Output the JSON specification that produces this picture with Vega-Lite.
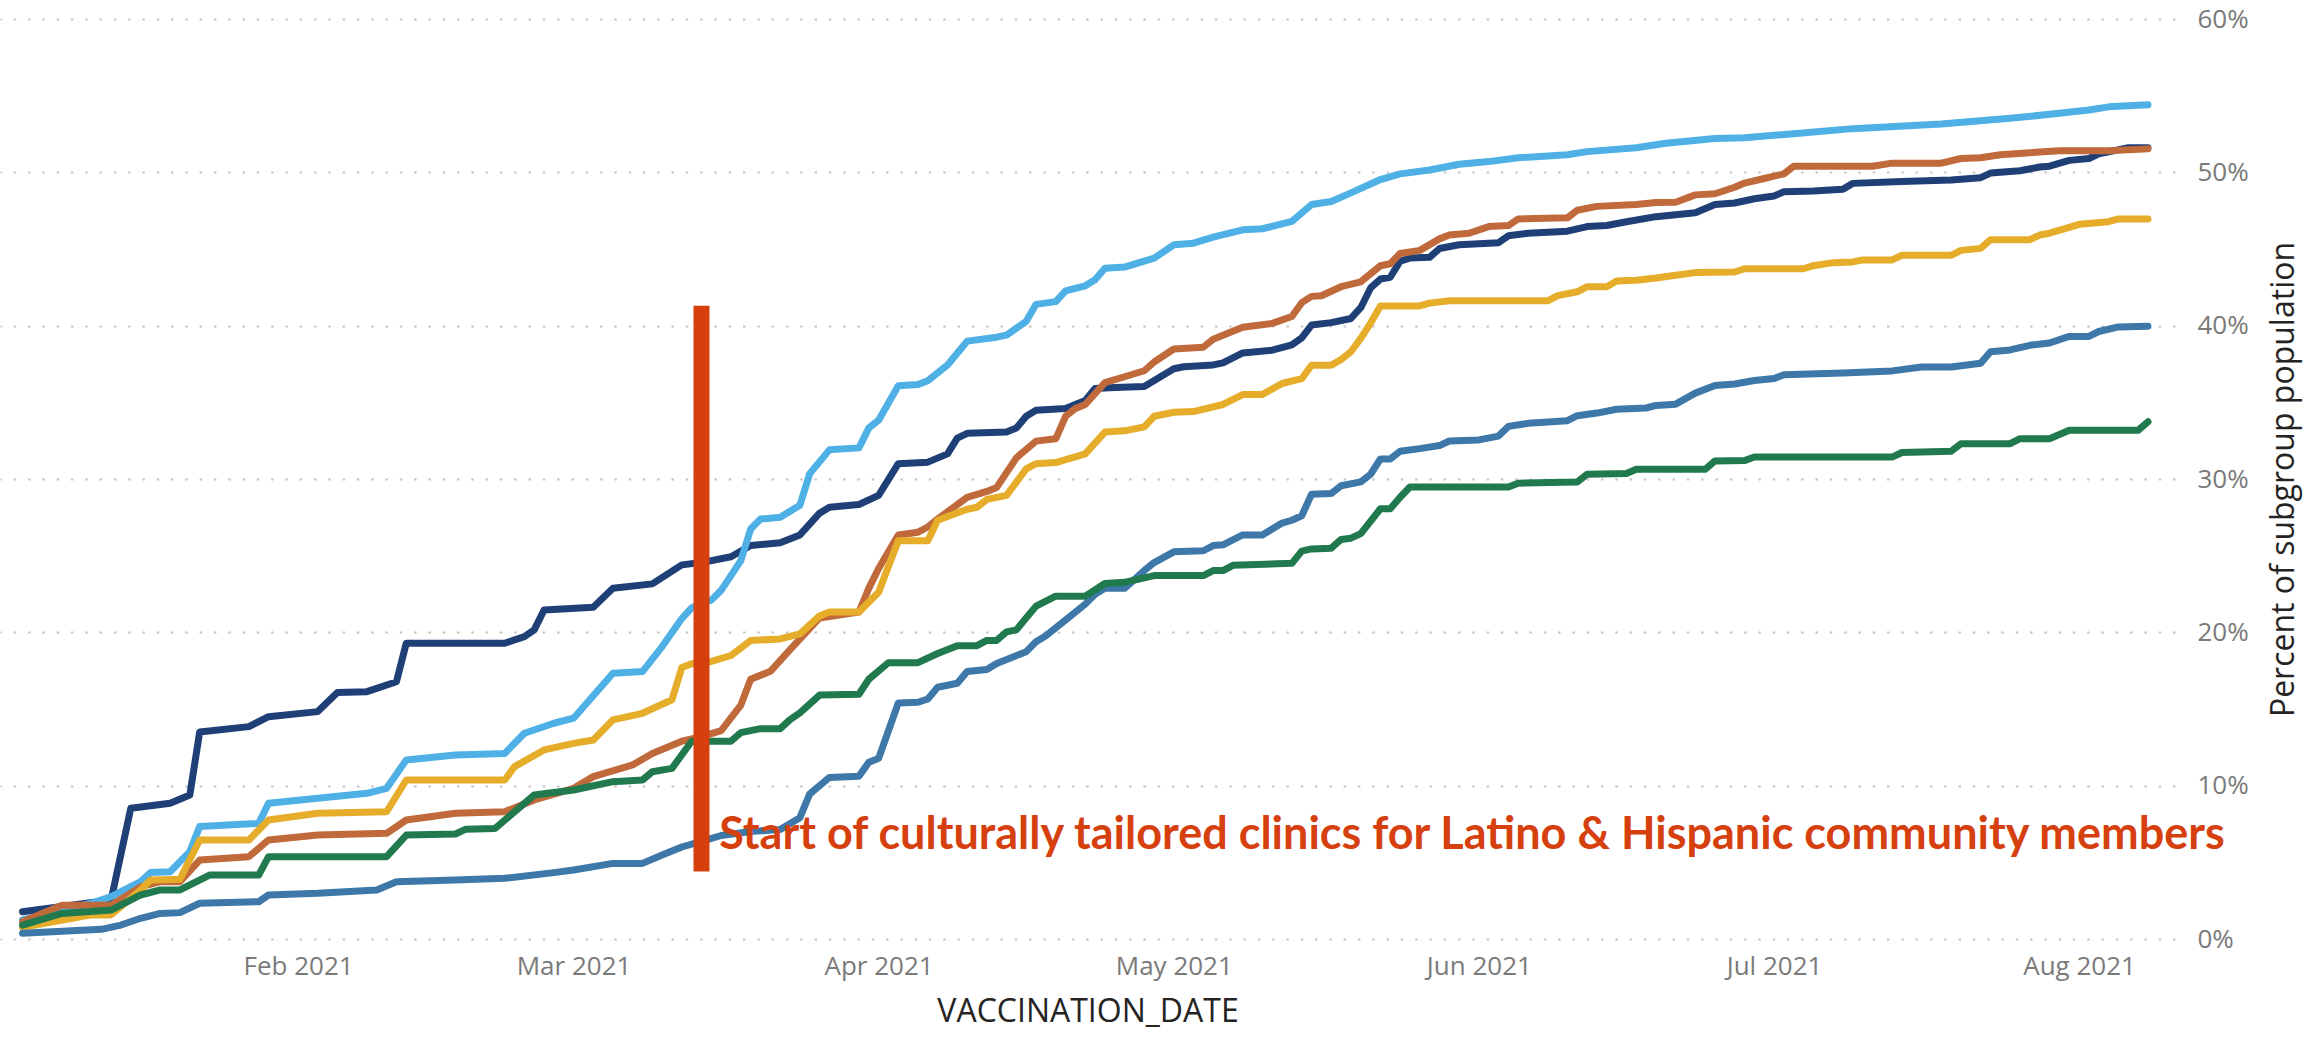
{
  "$schema": "https://vega.github.io/schema/vega-lite/v6.json",
  "autosize": {"type": "none"},
  "width": 2175,
  "height": 920,
  "padding": {"left": 0, "top": 19, "right": 143, "bottom": 99},
  "background": "#ffffff",
  "config": {
    "view": {"stroke": null},
    "axisX": {
      "grid": false, "domain": false, "ticks": false, "tickSize": 0,
      "labelFont": "Open Sans", "labelFontSize": 26, "labelColor": "#7a7a7a",
      "labelPadding": 14, "labelOverlap": false,
      "titleFont": "Open Sans", "titleFontSize": 32,
      "titleFontWeight": "normal", "titleColor": "#252423", "titlePadding": 17
    },
    "axisY": {
      "grid": true, "gridColor": "#c4c4c4", "gridDash": [2.5, 11.8], "gridWidth": 2,
      "domain": false, "ticks": false, "tickSize": 0,
      "labelFont": "Open Sans", "labelFontSize": 26, "labelColor": "#7a7a7a",
      "labelPadding": 22, "labelAlign": "left",
      "titleFont": "Open Sans", "titleFontSize": 32,
      "titleFontWeight": "normal", "titleColor": "#252423", "titleAngle": 270, "titlePadding": 52
    }
  },
  "datasets": {
    "lines": [
      {"g":"Group 3","d":"2021-01-04","v":1.78},{"g":"Group 3","d":"2021-01-13","v":2.54},{"g":"Group 3","d":"2021-01-15","v":8.53},{"g":"Group 3","d":"2021-01-19","v":8.85},{"g":"Group 3","d":"2021-01-21","v":9.39},{"g":"Group 3","d":"2021-01-22","v":13.5},{"g":"Group 3","d":"2021-01-27","v":13.85},{"g":"Group 3","d":"2021-01-29","v":14.5},{"g":"Group 3","d":"2021-02-03","v":14.83},{"g":"Group 3","d":"2021-02-05","v":16.07},{"g":"Group 3","d":"2021-02-08","v":16.13},{"g":"Group 3","d":"2021-02-11","v":16.78},{"g":"Group 3","d":"2021-02-12","v":19.29},{"g":"Group 3","d":"2021-02-22","v":19.29},{"g":"Group 3","d":"2021-02-24","v":19.72},{"g":"Group 3","d":"2021-02-25","v":20.16},{"g":"Group 3","d":"2021-02-26","v":21.46},{"g":"Group 3","d":"2021-03-03","v":21.64},{"g":"Group 3","d":"2021-03-05","v":22.87},{"g":"Group 3","d":"2021-03-09","v":23.16},{"g":"Group 3","d":"2021-03-12","v":24.4},{"g":"Group 3","d":"2021-03-14","v":24.55},{"g":"Group 3","d":"2021-03-17","v":24.93},{"g":"Group 3","d":"2021-03-19","v":25.66},{"g":"Group 3","d":"2021-03-22","v":25.84},{"g":"Group 3","d":"2021-03-24","v":26.35},{"g":"Group 3","d":"2021-03-26","v":27.77},{"g":"Group 3","d":"2021-03-27","v":28.16},{"g":"Group 3","d":"2021-03-30","v":28.34},{"g":"Group 3","d":"2021-04-01","v":28.93},{"g":"Group 3","d":"2021-04-03","v":31.0},{"g":"Group 3","d":"2021-04-06","v":31.1},{"g":"Group 3","d":"2021-04-08","v":31.64},{"g":"Group 3","d":"2021-04-09","v":32.67},{"g":"Group 3","d":"2021-04-10","v":32.98},{"g":"Group 3","d":"2021-04-14","v":33.06},{"g":"Group 3","d":"2021-04-15","v":33.32},{"g":"Group 3","d":"2021-04-16","v":34.09},{"g":"Group 3","d":"2021-04-17","v":34.48},{"g":"Group 3","d":"2021-04-20","v":34.6},{"g":"Group 3","d":"2021-04-22","v":35.12},{"g":"Group 3","d":"2021-04-23","v":35.9},{"g":"Group 3","d":"2021-04-25","v":35.97},{"g":"Group 3","d":"2021-04-28","v":36.03},{"g":"Group 3","d":"2021-05-01","v":37.19},{"g":"Group 3","d":"2021-05-02","v":37.32},{"g":"Group 3","d":"2021-05-05","v":37.44},{"g":"Group 3","d":"2021-05-06","v":37.57},{"g":"Group 3","d":"2021-05-08","v":38.22},{"g":"Group 3","d":"2021-05-11","v":38.4},{"g":"Group 3","d":"2021-05-13","v":38.75},{"g":"Group 3","d":"2021-05-14","v":39.2},{"g":"Group 3","d":"2021-05-15","v":40.04},{"g":"Group 3","d":"2021-05-17","v":40.2},{"g":"Group 3","d":"2021-05-19","v":40.47},{"g":"Group 3","d":"2021-05-20","v":41.17},{"g":"Group 3","d":"2021-05-21","v":42.46},{"g":"Group 3","d":"2021-05-22","v":43.04},{"g":"Group 3","d":"2021-05-23","v":43.16},{"g":"Group 3","d":"2021-05-24","v":44.21},{"g":"Group 3","d":"2021-05-25","v":44.41},{"g":"Group 3","d":"2021-05-27","v":44.46},{"g":"Group 3","d":"2021-05-28","v":45.03},{"g":"Group 3","d":"2021-05-30","v":45.28},{"g":"Group 3","d":"2021-06-03","v":45.41},{"g":"Group 3","d":"2021-06-04","v":45.86},{"g":"Group 3","d":"2021-06-06","v":46.03},{"g":"Group 3","d":"2021-06-10","v":46.16},{"g":"Group 3","d":"2021-06-12","v":46.46},{"g":"Group 3","d":"2021-06-14","v":46.53},{"g":"Group 3","d":"2021-06-16","v":46.78},{"g":"Group 3","d":"2021-06-19","v":47.11},{"g":"Group 3","d":"2021-06-23","v":47.36},{"g":"Group 3","d":"2021-06-25","v":47.9},{"g":"Group 3","d":"2021-06-27","v":48.0},{"g":"Group 3","d":"2021-06-29","v":48.28},{"g":"Group 3","d":"2021-07-01","v":48.46},{"g":"Group 3","d":"2021-07-02","v":48.73},{"g":"Group 3","d":"2021-07-05","v":48.78},{"g":"Group 3","d":"2021-07-08","v":48.9},{"g":"Group 3","d":"2021-07-09","v":49.28},{"g":"Group 3","d":"2021-07-14","v":49.4},{"g":"Group 3","d":"2021-07-19","v":49.5},{"g":"Group 3","d":"2021-07-22","v":49.65},{"g":"Group 3","d":"2021-07-23","v":49.95},{"g":"Group 3","d":"2021-07-26","v":50.1},{"g":"Group 3","d":"2021-07-28","v":50.35},{"g":"Group 3","d":"2021-07-29","v":50.4},{"g":"Group 3","d":"2021-07-31","v":50.78},{"g":"Group 3","d":"2021-08-02","v":50.9},{"g":"Group 3","d":"2021-08-03","v":51.2},{"g":"Group 3","d":"2021-08-06","v":51.6},{"g":"Group 3","d":"2021-08-08","v":51.6},
      {"g":"Group 1","d":"2021-01-04","v":1.24},{"g":"Group 1","d":"2021-01-11","v":2.33},{"g":"Group 1","d":"2021-01-13","v":2.76},{"g":"Group 1","d":"2021-01-16","v":3.74},{"g":"Group 1","d":"2021-01-17","v":4.33},{"g":"Group 1","d":"2021-01-19","v":4.39},{"g":"Group 1","d":"2021-01-21","v":5.7},{"g":"Group 1","d":"2021-01-22","v":7.33},{"g":"Group 1","d":"2021-01-28","v":7.54},{"g":"Group 1","d":"2021-01-29","v":8.85},{"g":"Group 1","d":"2021-02-03","v":9.18},{"g":"Group 1","d":"2021-02-08","v":9.5},{"g":"Group 1","d":"2021-02-10","v":9.83},{"g":"Group 1","d":"2021-02-12","v":11.68},{"g":"Group 1","d":"2021-02-17","v":12.0},{"g":"Group 1","d":"2021-02-22","v":12.1},{"g":"Group 1","d":"2021-02-24","v":13.42},{"g":"Group 1","d":"2021-02-27","v":14.07},{"g":"Group 1","d":"2021-03-01","v":14.4},{"g":"Group 1","d":"2021-03-05","v":17.33},{"g":"Group 1","d":"2021-03-08","v":17.44},{"g":"Group 1","d":"2021-03-10","v":19.07},{"g":"Group 1","d":"2021-03-12","v":20.9},{"g":"Group 1","d":"2021-03-13","v":21.6},{"g":"Group 1","d":"2021-03-14","v":21.9},{"g":"Group 1","d":"2021-03-15","v":22.1},{"g":"Group 1","d":"2021-03-16","v":22.74},{"g":"Group 1","d":"2021-03-18","v":24.68},{"g":"Group 1","d":"2021-03-19","v":26.74},{"g":"Group 1","d":"2021-03-20","v":27.39},{"g":"Group 1","d":"2021-03-22","v":27.5},{"g":"Group 1","d":"2021-03-24","v":28.29},{"g":"Group 1","d":"2021-03-25","v":30.35},{"g":"Group 1","d":"2021-03-27","v":31.9},{"g":"Group 1","d":"2021-03-30","v":32.03},{"g":"Group 1","d":"2021-03-31","v":33.32},{"g":"Group 1","d":"2021-04-01","v":33.83},{"g":"Group 1","d":"2021-04-03","v":36.08},{"g":"Group 1","d":"2021-04-05","v":36.16},{"g":"Group 1","d":"2021-04-06","v":36.41},{"g":"Group 1","d":"2021-04-08","v":37.44},{"g":"Group 1","d":"2021-04-10","v":38.99},{"g":"Group 1","d":"2021-04-13","v":39.25},{"g":"Group 1","d":"2021-04-14","v":39.38},{"g":"Group 1","d":"2021-04-16","v":40.28},{"g":"Group 1","d":"2021-04-17","v":41.39},{"g":"Group 1","d":"2021-04-19","v":41.57},{"g":"Group 1","d":"2021-04-20","v":42.27},{"g":"Group 1","d":"2021-04-22","v":42.6},{"g":"Group 1","d":"2021-04-23","v":43.0},{"g":"Group 1","d":"2021-04-24","v":43.75},{"g":"Group 1","d":"2021-04-26","v":43.82},{"g":"Group 1","d":"2021-04-29","v":44.4},{"g":"Group 1","d":"2021-05-01","v":45.27},{"g":"Group 1","d":"2021-05-03","v":45.38},{"g":"Group 1","d":"2021-05-05","v":45.77},{"g":"Group 1","d":"2021-05-08","v":46.25},{"g":"Group 1","d":"2021-05-10","v":46.32},{"g":"Group 1","d":"2021-05-13","v":46.8},{"g":"Group 1","d":"2021-05-15","v":47.9},{"g":"Group 1","d":"2021-05-17","v":48.1},{"g":"Group 1","d":"2021-05-19","v":48.66},{"g":"Group 1","d":"2021-05-22","v":49.53},{"g":"Group 1","d":"2021-05-24","v":49.9},{"g":"Group 1","d":"2021-05-27","v":50.15},{"g":"Group 1","d":"2021-05-30","v":50.53},{"g":"Group 1","d":"2021-06-02","v":50.7},{"g":"Group 1","d":"2021-06-05","v":50.95},{"g":"Group 1","d":"2021-06-10","v":51.15},{"g":"Group 1","d":"2021-06-12","v":51.35},{"g":"Group 1","d":"2021-06-17","v":51.6},{"g":"Group 1","d":"2021-06-20","v":51.9},{"g":"Group 1","d":"2021-06-25","v":52.2},{"g":"Group 1","d":"2021-06-28","v":52.25},{"g":"Group 1","d":"2021-07-03","v":52.52},{"g":"Group 1","d":"2021-07-09","v":52.85},{"g":"Group 1","d":"2021-07-18","v":53.15},{"g":"Group 1","d":"2021-07-25","v":53.52},{"g":"Group 1","d":"2021-07-30","v":53.85},{"g":"Group 1","d":"2021-08-02","v":54.07},{"g":"Group 1","d":"2021-08-04","v":54.27},{"g":"Group 1","d":"2021-08-08","v":54.4},
      {"g":"Group 2","d":"2021-01-04","v":1.13},{"g":"Group 2","d":"2021-01-08","v":2.2},{"g":"Group 2","d":"2021-01-13","v":2.2},{"g":"Group 2","d":"2021-01-16","v":3.4},{"g":"Group 2","d":"2021-01-18","v":3.74},{"g":"Group 2","d":"2021-01-20","v":3.74},{"g":"Group 2","d":"2021-01-22","v":5.15},{"g":"Group 2","d":"2021-01-27","v":5.37},{"g":"Group 2","d":"2021-01-29","v":6.46},{"g":"Group 2","d":"2021-02-03","v":6.78},{"g":"Group 2","d":"2021-02-10","v":6.89},{"g":"Group 2","d":"2021-02-12","v":7.76},{"g":"Group 2","d":"2021-02-17","v":8.2},{"g":"Group 2","d":"2021-02-22","v":8.3},{"g":"Group 2","d":"2021-02-25","v":9.07},{"g":"Group 2","d":"2021-03-01","v":9.83},{"g":"Group 2","d":"2021-03-03","v":10.59},{"g":"Group 2","d":"2021-03-07","v":11.35},{"g":"Group 2","d":"2021-03-09","v":12.1},{"g":"Group 2","d":"2021-03-12","v":12.9},{"g":"Group 2","d":"2021-03-14","v":13.2},{"g":"Group 2","d":"2021-03-16","v":13.59},{"g":"Group 2","d":"2021-03-18","v":15.26},{"g":"Group 2","d":"2021-03-19","v":16.94},{"g":"Group 2","d":"2021-03-21","v":17.46},{"g":"Group 2","d":"2021-03-23","v":18.87},{"g":"Group 2","d":"2021-03-26","v":20.94},{"g":"Group 2","d":"2021-03-30","v":21.32},{"g":"Group 2","d":"2021-03-31","v":22.87},{"g":"Group 2","d":"2021-04-01","v":24.16},{"g":"Group 2","d":"2021-04-03","v":26.35},{"g":"Group 2","d":"2021-04-05","v":26.53},{"g":"Group 2","d":"2021-04-06","v":26.87},{"g":"Group 2","d":"2021-04-07","v":27.39},{"g":"Group 2","d":"2021-04-10","v":28.8},{"g":"Group 2","d":"2021-04-12","v":29.19},{"g":"Group 2","d":"2021-04-13","v":29.45},{"g":"Group 2","d":"2021-04-15","v":31.38},{"g":"Group 2","d":"2021-04-17","v":32.47},{"g":"Group 2","d":"2021-04-19","v":32.62},{"g":"Group 2","d":"2021-04-20","v":34.09},{"g":"Group 2","d":"2021-04-21","v":34.6},{"g":"Group 2","d":"2021-04-22","v":34.86},{"g":"Group 2","d":"2021-04-24","v":36.28},{"g":"Group 2","d":"2021-04-26","v":36.67},{"g":"Group 2","d":"2021-04-28","v":37.06},{"g":"Group 2","d":"2021-04-29","v":37.63},{"g":"Group 2","d":"2021-05-01","v":38.48},{"g":"Group 2","d":"2021-05-04","v":38.6},{"g":"Group 2","d":"2021-05-05","v":39.12},{"g":"Group 2","d":"2021-05-08","v":39.9},{"g":"Group 2","d":"2021-05-11","v":40.15},{"g":"Group 2","d":"2021-05-13","v":40.6},{"g":"Group 2","d":"2021-05-14","v":41.5},{"g":"Group 2","d":"2021-05-15","v":41.91},{"g":"Group 2","d":"2021-05-16","v":41.95},{"g":"Group 2","d":"2021-05-18","v":42.54},{"g":"Group 2","d":"2021-05-20","v":42.86},{"g":"Group 2","d":"2021-05-22","v":43.91},{"g":"Group 2","d":"2021-05-23","v":44.04},{"g":"Group 2","d":"2021-05-24","v":44.71},{"g":"Group 2","d":"2021-05-26","v":44.91},{"g":"Group 2","d":"2021-05-28","v":45.66},{"g":"Group 2","d":"2021-05-29","v":45.91},{"g":"Group 2","d":"2021-05-31","v":46.03},{"g":"Group 2","d":"2021-06-02","v":46.46},{"g":"Group 2","d":"2021-06-04","v":46.53},{"g":"Group 2","d":"2021-06-05","v":46.96},{"g":"Group 2","d":"2021-06-10","v":47.03},{"g":"Group 2","d":"2021-06-11","v":47.53},{"g":"Group 2","d":"2021-06-13","v":47.78},{"g":"Group 2","d":"2021-06-17","v":47.9},{"g":"Group 2","d":"2021-06-19","v":48.03},{"g":"Group 2","d":"2021-06-21","v":48.05},{"g":"Group 2","d":"2021-06-23","v":48.53},{"g":"Group 2","d":"2021-06-25","v":48.6},{"g":"Group 2","d":"2021-06-27","v":49.03},{"g":"Group 2","d":"2021-06-28","v":49.3},{"g":"Group 2","d":"2021-06-30","v":49.6},{"g":"Group 2","d":"2021-07-02","v":49.9},{"g":"Group 2","d":"2021-07-03","v":50.4},{"g":"Group 2","d":"2021-07-11","v":50.4},{"g":"Group 2","d":"2021-07-13","v":50.6},{"g":"Group 2","d":"2021-07-18","v":50.6},{"g":"Group 2","d":"2021-07-20","v":50.9},{"g":"Group 2","d":"2021-07-22","v":50.95},{"g":"Group 2","d":"2021-07-24","v":51.15},{"g":"Group 2","d":"2021-07-27","v":51.28},{"g":"Group 2","d":"2021-07-30","v":51.4},{"g":"Group 2","d":"2021-08-04","v":51.4},{"g":"Group 2","d":"2021-08-08","v":51.53},
      {"g":"Group 4","d":"2021-01-04","v":0.76},{"g":"Group 4","d":"2021-01-11","v":1.57},{"g":"Group 4","d":"2021-01-13","v":1.57},{"g":"Group 4","d":"2021-01-16","v":3.2},{"g":"Group 4","d":"2021-01-17","v":3.85},{"g":"Group 4","d":"2021-01-20","v":3.9},{"g":"Group 4","d":"2021-01-22","v":6.46},{"g":"Group 4","d":"2021-01-27","v":6.46},{"g":"Group 4","d":"2021-01-29","v":7.76},{"g":"Group 4","d":"2021-02-03","v":8.2},{"g":"Group 4","d":"2021-02-10","v":8.3},{"g":"Group 4","d":"2021-02-12","v":10.37},{"g":"Group 4","d":"2021-02-22","v":10.37},{"g":"Group 4","d":"2021-02-23","v":11.24},{"g":"Group 4","d":"2021-02-26","v":12.33},{"g":"Group 4","d":"2021-03-01","v":12.76},{"g":"Group 4","d":"2021-03-03","v":12.98},{"g":"Group 4","d":"2021-03-05","v":14.29},{"g":"Group 4","d":"2021-03-08","v":14.72},{"g":"Group 4","d":"2021-03-11","v":15.6},{"g":"Group 4","d":"2021-03-12","v":17.7},{"g":"Group 4","d":"2021-03-13","v":17.95},{"g":"Group 4","d":"2021-03-15","v":18.1},{"g":"Group 4","d":"2021-03-17","v":18.49},{"g":"Group 4","d":"2021-03-19","v":19.47},{"g":"Group 4","d":"2021-03-22","v":19.57},{"g":"Group 4","d":"2021-03-24","v":19.9},{"g":"Group 4","d":"2021-03-26","v":21.07},{"g":"Group 4","d":"2021-03-27","v":21.32},{"g":"Group 4","d":"2021-03-30","v":21.32},{"g":"Group 4","d":"2021-04-01","v":22.61},{"g":"Group 4","d":"2021-04-03","v":25.97},{"g":"Group 4","d":"2021-04-06","v":25.97},{"g":"Group 4","d":"2021-04-07","v":27.31},{"g":"Group 4","d":"2021-04-10","v":28.03},{"g":"Group 4","d":"2021-04-11","v":28.16},{"g":"Group 4","d":"2021-04-12","v":28.67},{"g":"Group 4","d":"2021-04-14","v":28.93},{"g":"Group 4","d":"2021-04-16","v":30.66},{"g":"Group 4","d":"2021-04-17","v":31.0},{"g":"Group 4","d":"2021-04-19","v":31.07},{"g":"Group 4","d":"2021-04-22","v":31.64},{"g":"Group 4","d":"2021-04-24","v":33.06},{"g":"Group 4","d":"2021-04-26","v":33.14},{"g":"Group 4","d":"2021-04-28","v":33.4},{"g":"Group 4","d":"2021-04-29","v":34.09},{"g":"Group 4","d":"2021-05-01","v":34.35},{"g":"Group 4","d":"2021-05-03","v":34.4},{"g":"Group 4","d":"2021-05-06","v":34.86},{"g":"Group 4","d":"2021-05-08","v":35.51},{"g":"Group 4","d":"2021-05-10","v":35.51},{"g":"Group 4","d":"2021-05-12","v":36.23},{"g":"Group 4","d":"2021-05-14","v":36.54},{"g":"Group 4","d":"2021-05-15","v":37.42},{"g":"Group 4","d":"2021-05-17","v":37.42},{"g":"Group 4","d":"2021-05-18","v":37.8},{"g":"Group 4","d":"2021-05-19","v":38.3},{"g":"Group 4","d":"2021-05-20","v":39.17},{"g":"Group 4","d":"2021-05-21","v":40.17},{"g":"Group 4","d":"2021-05-22","v":41.29},{"g":"Group 4","d":"2021-05-26","v":41.29},{"g":"Group 4","d":"2021-05-27","v":41.47},{"g":"Group 4","d":"2021-05-29","v":41.62},{"g":"Group 4","d":"2021-06-08","v":41.62},{"g":"Group 4","d":"2021-06-09","v":41.96},{"g":"Group 4","d":"2021-06-11","v":42.21},{"g":"Group 4","d":"2021-06-12","v":42.54},{"g":"Group 4","d":"2021-06-14","v":42.54},{"g":"Group 4","d":"2021-06-15","v":42.91},{"g":"Group 4","d":"2021-06-17","v":42.96},{"g":"Group 4","d":"2021-06-19","v":43.11},{"g":"Group 4","d":"2021-06-21","v":43.29},{"g":"Group 4","d":"2021-06-23","v":43.46},{"g":"Group 4","d":"2021-06-27","v":43.5},{"g":"Group 4","d":"2021-06-28","v":43.71},{"g":"Group 4","d":"2021-07-04","v":43.71},{"g":"Group 4","d":"2021-07-05","v":43.91},{"g":"Group 4","d":"2021-07-07","v":44.11},{"g":"Group 4","d":"2021-07-09","v":44.16},{"g":"Group 4","d":"2021-07-10","v":44.29},{"g":"Group 4","d":"2021-07-13","v":44.29},{"g":"Group 4","d":"2021-07-14","v":44.59},{"g":"Group 4","d":"2021-07-19","v":44.59},{"g":"Group 4","d":"2021-07-20","v":44.91},{"g":"Group 4","d":"2021-07-22","v":45.04},{"g":"Group 4","d":"2021-07-23","v":45.61},{"g":"Group 4","d":"2021-07-27","v":45.61},{"g":"Group 4","d":"2021-07-28","v":45.91},{"g":"Group 4","d":"2021-07-29","v":46.03},{"g":"Group 4","d":"2021-07-31","v":46.41},{"g":"Group 4","d":"2021-08-01","v":46.61},{"g":"Group 4","d":"2021-08-04","v":46.78},{"g":"Group 4","d":"2021-08-05","v":46.96},{"g":"Group 4","d":"2021-08-08","v":46.96},
      {"g":"Group 5","d":"2021-01-04","v":0.37},{"g":"Group 5","d":"2021-01-12","v":0.63},{"g":"Group 5","d":"2021-01-14","v":0.91},{"g":"Group 5","d":"2021-01-16","v":1.35},{"g":"Group 5","d":"2021-01-18","v":1.67},{"g":"Group 5","d":"2021-01-20","v":1.72},{"g":"Group 5","d":"2021-01-22","v":2.33},{"g":"Group 5","d":"2021-01-28","v":2.43},{"g":"Group 5","d":"2021-01-29","v":2.87},{"g":"Group 5","d":"2021-02-03","v":2.98},{"g":"Group 5","d":"2021-02-09","v":3.2},{"g":"Group 5","d":"2021-02-11","v":3.74},{"g":"Group 5","d":"2021-02-17","v":3.85},{"g":"Group 5","d":"2021-02-22","v":3.96},{"g":"Group 5","d":"2021-02-27","v":4.33},{"g":"Group 5","d":"2021-03-01","v":4.5},{"g":"Group 5","d":"2021-03-05","v":4.93},{"g":"Group 5","d":"2021-03-08","v":4.93},{"g":"Group 5","d":"2021-03-10","v":5.48},{"g":"Group 5","d":"2021-03-12","v":6.0},{"g":"Group 5","d":"2021-03-14","v":6.36},{"g":"Group 5","d":"2021-03-16","v":6.75},{"g":"Group 5","d":"2021-03-19","v":7.01},{"g":"Group 5","d":"2021-03-22","v":7.14},{"g":"Group 5","d":"2021-03-24","v":7.91},{"g":"Group 5","d":"2021-03-25","v":9.46},{"g":"Group 5","d":"2021-03-27","v":10.54},{"g":"Group 5","d":"2021-03-30","v":10.62},{"g":"Group 5","d":"2021-03-31","v":11.52},{"g":"Group 5","d":"2021-04-01","v":11.78},{"g":"Group 5","d":"2021-04-03","v":15.39},{"g":"Group 5","d":"2021-04-05","v":15.44},{"g":"Group 5","d":"2021-04-06","v":15.65},{"g":"Group 5","d":"2021-04-07","v":16.42},{"g":"Group 5","d":"2021-04-09","v":16.68},{"g":"Group 5","d":"2021-04-10","v":17.45},{"g":"Group 5","d":"2021-04-12","v":17.58},{"g":"Group 5","d":"2021-04-13","v":17.97},{"g":"Group 5","d":"2021-04-16","v":18.74},{"g":"Group 5","d":"2021-04-17","v":19.39},{"g":"Group 5","d":"2021-04-18","v":19.78},{"g":"Group 5","d":"2021-04-20","v":20.81},{"g":"Group 5","d":"2021-04-22","v":21.84},{"g":"Group 5","d":"2021-04-23","v":22.48},{"g":"Group 5","d":"2021-04-24","v":22.87},{"g":"Group 5","d":"2021-04-26","v":22.87},{"g":"Group 5","d":"2021-04-28","v":24.03},{"g":"Group 5","d":"2021-04-29","v":24.55},{"g":"Group 5","d":"2021-05-01","v":25.25},{"g":"Group 5","d":"2021-05-04","v":25.32},{"g":"Group 5","d":"2021-05-05","v":25.66},{"g":"Group 5","d":"2021-05-06","v":25.71},{"g":"Group 5","d":"2021-05-08","v":26.35},{"g":"Group 5","d":"2021-05-10","v":26.35},{"g":"Group 5","d":"2021-05-12","v":27.13},{"g":"Group 5","d":"2021-05-13","v":27.31},{"g":"Group 5","d":"2021-05-14","v":27.6},{"g":"Group 5","d":"2021-05-15","v":29.0},{"g":"Group 5","d":"2021-05-17","v":29.06},{"g":"Group 5","d":"2021-05-18","v":29.56},{"g":"Group 5","d":"2021-05-20","v":29.81},{"g":"Group 5","d":"2021-05-21","v":30.31},{"g":"Group 5","d":"2021-05-22","v":31.31},{"g":"Group 5","d":"2021-05-23","v":31.31},{"g":"Group 5","d":"2021-05-24","v":31.81},{"g":"Group 5","d":"2021-05-26","v":31.98},{"g":"Group 5","d":"2021-05-28","v":32.18},{"g":"Group 5","d":"2021-05-29","v":32.48},{"g":"Group 5","d":"2021-06-01","v":32.55},{"g":"Group 5","d":"2021-06-03","v":32.8},{"g":"Group 5","d":"2021-06-04","v":33.43},{"g":"Group 5","d":"2021-06-06","v":33.63},{"g":"Group 5","d":"2021-06-10","v":33.8},{"g":"Group 5","d":"2021-06-11","v":34.13},{"g":"Group 5","d":"2021-06-13","v":34.3},{"g":"Group 5","d":"2021-06-15","v":34.55},{"g":"Group 5","d":"2021-06-18","v":34.63},{"g":"Group 5","d":"2021-06-19","v":34.8},{"g":"Group 5","d":"2021-06-21","v":34.88},{"g":"Group 5","d":"2021-06-23","v":35.6},{"g":"Group 5","d":"2021-06-25","v":36.1},{"g":"Group 5","d":"2021-06-27","v":36.2},{"g":"Group 5","d":"2021-06-29","v":36.42},{"g":"Group 5","d":"2021-07-01","v":36.55},{"g":"Group 5","d":"2021-07-02","v":36.8},{"g":"Group 5","d":"2021-07-08","v":36.92},{"g":"Group 5","d":"2021-07-13","v":37.05},{"g":"Group 5","d":"2021-07-16","v":37.3},{"g":"Group 5","d":"2021-07-19","v":37.3},{"g":"Group 5","d":"2021-07-22","v":37.55},{"g":"Group 5","d":"2021-07-23","v":38.3},{"g":"Group 5","d":"2021-07-25","v":38.42},{"g":"Group 5","d":"2021-07-27","v":38.72},{"g":"Group 5","d":"2021-07-29","v":38.87},{"g":"Group 5","d":"2021-07-31","v":39.3},{"g":"Group 5","d":"2021-08-02","v":39.3},{"g":"Group 5","d":"2021-08-03","v":39.62},{"g":"Group 5","d":"2021-08-05","v":39.92},{"g":"Group 5","d":"2021-08-08","v":39.97},
      {"g":"Group 6","d":"2021-01-04","v":0.91},{"g":"Group 6","d":"2021-01-08","v":1.67},{"g":"Group 6","d":"2021-01-13","v":1.89},{"g":"Group 6","d":"2021-01-16","v":2.87},{"g":"Group 6","d":"2021-01-18","v":3.2},{"g":"Group 6","d":"2021-01-20","v":3.2},{"g":"Group 6","d":"2021-01-23","v":4.17},{"g":"Group 6","d":"2021-01-28","v":4.17},{"g":"Group 6","d":"2021-01-29","v":5.37},{"g":"Group 6","d":"2021-02-10","v":5.37},{"g":"Group 6","d":"2021-02-12","v":6.78},{"g":"Group 6","d":"2021-02-17","v":6.85},{"g":"Group 6","d":"2021-02-18","v":7.15},{"g":"Group 6","d":"2021-02-21","v":7.2},{"g":"Group 6","d":"2021-02-25","v":9.39},{"g":"Group 6","d":"2021-03-01","v":9.72},{"g":"Group 6","d":"2021-03-05","v":10.26},{"g":"Group 6","d":"2021-03-08","v":10.37},{"g":"Group 6","d":"2021-03-09","v":10.91},{"g":"Group 6","d":"2021-03-11","v":11.13},{"g":"Group 6","d":"2021-03-13","v":12.9},{"g":"Group 6","d":"2021-03-17","v":12.9},{"g":"Group 6","d":"2021-03-18","v":13.46},{"g":"Group 6","d":"2021-03-20","v":13.72},{"g":"Group 6","d":"2021-03-22","v":13.72},{"g":"Group 6","d":"2021-03-23","v":14.31},{"g":"Group 6","d":"2021-03-24","v":14.75},{"g":"Group 6","d":"2021-03-26","v":15.91},{"g":"Group 6","d":"2021-03-30","v":15.96},{"g":"Group 6","d":"2021-03-31","v":16.94},{"g":"Group 6","d":"2021-04-02","v":18.02},{"g":"Group 6","d":"2021-04-05","v":18.02},{"g":"Group 6","d":"2021-04-07","v":18.62},{"g":"Group 6","d":"2021-04-09","v":19.13},{"g":"Group 6","d":"2021-04-11","v":19.13},{"g":"Group 6","d":"2021-04-12","v":19.47},{"g":"Group 6","d":"2021-04-13","v":19.47},{"g":"Group 6","d":"2021-04-14","v":20.03},{"g":"Group 6","d":"2021-04-15","v":20.16},{"g":"Group 6","d":"2021-04-17","v":21.71},{"g":"Group 6","d":"2021-04-19","v":22.36},{"g":"Group 6","d":"2021-04-22","v":22.36},{"g":"Group 6","d":"2021-04-24","v":23.18},{"g":"Group 6","d":"2021-04-26","v":23.26},{"g":"Group 6","d":"2021-04-29","v":23.7},{"g":"Group 6","d":"2021-05-04","v":23.7},{"g":"Group 6","d":"2021-05-05","v":24.03},{"g":"Group 6","d":"2021-05-06","v":24.03},{"g":"Group 6","d":"2021-05-07","v":24.37},{"g":"Group 6","d":"2021-05-13","v":24.5},{"g":"Group 6","d":"2021-05-14","v":25.3},{"g":"Group 6","d":"2021-05-15","v":25.44},{"g":"Group 6","d":"2021-05-17","v":25.49},{"g":"Group 6","d":"2021-05-18","v":26.06},{"g":"Group 6","d":"2021-05-19","v":26.14},{"g":"Group 6","d":"2021-05-20","v":26.44},{"g":"Group 6","d":"2021-05-22","v":28.06},{"g":"Group 6","d":"2021-05-23","v":28.06},{"g":"Group 6","d":"2021-05-24","v":28.81},{"g":"Group 6","d":"2021-05-25","v":29.48},{"g":"Group 6","d":"2021-06-04","v":29.48},{"g":"Group 6","d":"2021-06-05","v":29.73},{"g":"Group 6","d":"2021-06-11","v":29.81},{"g":"Group 6","d":"2021-06-12","v":30.31},{"g":"Group 6","d":"2021-06-16","v":30.36},{"g":"Group 6","d":"2021-06-17","v":30.63},{"g":"Group 6","d":"2021-06-24","v":30.63},{"g":"Group 6","d":"2021-06-25","v":31.18},{"g":"Group 6","d":"2021-06-28","v":31.2},{"g":"Group 6","d":"2021-06-29","v":31.43},{"g":"Group 6","d":"2021-07-13","v":31.43},{"g":"Group 6","d":"2021-07-14","v":31.73},{"g":"Group 6","d":"2021-07-19","v":31.81},{"g":"Group 6","d":"2021-07-20","v":32.3},{"g":"Group 6","d":"2021-07-25","v":32.3},{"g":"Group 6","d":"2021-07-26","v":32.63},{"g":"Group 6","d":"2021-07-29","v":32.63},{"g":"Group 6","d":"2021-07-31","v":33.18},{"g":"Group 6","d":"2021-08-07","v":33.18},{"g":"Group 6","d":"2021-08-08","v":33.73}
    ],
    "marker": [{"d": "2021-03-14", "v": 41.3, "v2": 4.4}],
    "note": [{"d": "2021-03-16", "v": 5.87, "label": "Start of culturally tailored clinics for Latino & Hispanic community members"}]
  },
  "layer": [
    {
      "data": {"name": "lines", "format": {"parse": {"d": "date:'%Y-%m-%d'"}}},
      "mark": {"type": "line", "strokeWidth": 7, "strokeCap": "round", "strokeJoin": "round"},
      "encoding": {
        "x": {
          "field": "d", "type": "temporal", "title": "VACCINATION_DATE",
          "scale": {"domain": [{"year": 2021, "month": 1, "date": 1, "hours": 17}, {"year": 2021, "month": 8, "date": 10, "hours": 18}]},
          "axis": {
            "values": [{"year": 2021, "month": 2, "date": 1}, {"year": 2021, "month": 3, "date": 1}, {"year": 2021, "month": 4, "date": 1}, {"year": 2021, "month": 5, "date": 1}, {"year": 2021, "month": 6, "date": 1}, {"year": 2021, "month": 7, "date": 1}, {"year": 2021, "month": 8, "date": 1}],
            "format": "%b %Y"
          }
        },
        "y": {
          "field": "v", "type": "quantitative", "title": "Percent of subgroup population",
          "scale": {"domain": [0, 60]},
          "axis": {
            "orient": "right",
            "values": [0, 10, 20, 30, 40, 50, 60],
            "labelExpr": "datum.value + '%'"
          }
        },
        "color": {
          "field": "g", "type": "nominal", "legend": null,
          "scale": {
            "domain": ["Group 1", "Group 2", "Group 3", "Group 4", "Group 5", "Group 6"],
            "range": ["#4fb0e6", "#c06a3b", "#1f3f77", "#e6ad2b", "#3d78a9", "#207a4d"]
          }
        }
      }
    },
    {
      "data": {"name": "marker", "format": {"parse": {"d": "date:'%Y-%m-%d'"}}},
      "mark": {"type": "rule", "strokeWidth": 16, "color": "#d6400f", "strokeCap": "butt"},
      "encoding": {
        "x": {"field": "d", "type": "temporal", "title": "VACCINATION_DATE"},
        "y": {"field": "v", "type": "quantitative", "title": "Percent of subgroup population"},
        "y2": {"field": "v2"}
      }
    },
    {
      "data": {"name": "note", "format": {"parse": {"d": "date:'%Y-%m-%d'"}}},
      "mark": {"type": "text", "align": "left", "baseline": "alphabetic", "font": "Lato", "fontWeight": "bold", "fontSize": 45, "color": "#d6400f", "dx": -2},
      "encoding": {
        "x": {"field": "d", "type": "temporal", "title": "VACCINATION_DATE"},
        "y": {"field": "v", "type": "quantitative", "title": "Percent of subgroup population"},
        "text": {"field": "label"}
      }
    }
  ]
}
